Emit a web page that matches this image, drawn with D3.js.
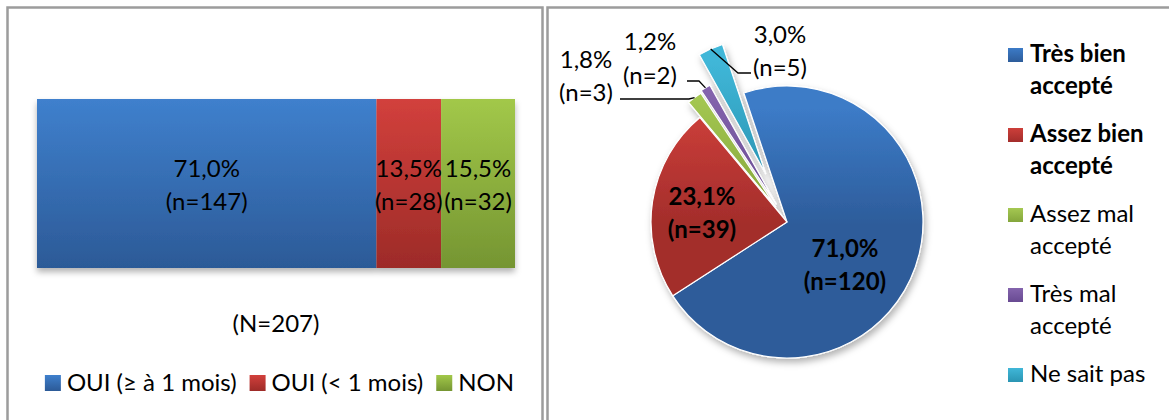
<!DOCTYPE html>
<html><head><meta charset="utf-8">
<script src="https://cdn.jsdelivr.net/npm/d3@7"></script>
<style>html,body{margin:0;padding:0;background:#fff;} svg{display:block}</style>
</head><body>
<script>
// ---------- data ----------
const barCategories = ["OUI (≥ à 1 mois)", "OUI (< 1 mois)", "NON"];
const barCounts = [147, 28, 32];
const barTotalLabel = "(N=207)";
const pieCategories = ["Très bien accepté", "Assez bien accepté", "Assez mal accepté", "Très mal accepté", "Ne sait pas"];
const pieCounts = [120, 39, 3, 2, 5];

// ---------- styles ----------
const FONT = "Lato, 'Open Sans', sans-serif";
const FS = 24;
const barColors = [["#3f80cd", "#2c5a97"], ["#d2403c", "#9d2b28"], ["#a2c849", "#759532"]];
const pieColors = [["#3c7bc7", "#2d5c9a"], ["#cd3f3a", "#a32d2b"], ["#a5c852", "#84a63b"], ["#8464ad", "#684a92"], ["#40b7d8", "#2a95b3"]];
const pieBold = [true, true, false, false, false];
const pieExplode = [0, 0, 19, 21, 53];

const W = 1169, H = 420;
const fmtPct = v => (v * 100).toFixed(1).replace(".", ",") + "%";

const svg = d3.select("body").append("svg").attr("width", W).attr("height", H)
  .style("font-family", FONT);
svg.append("rect").attr("width", W).attr("height", H).attr("fill", "#fff");
const defs = svg.append("defs");

// shadow filters
const f1 = defs.append("filter").attr("id", "barShadow").attr("x", "-5%").attr("y", "-10%").attr("width", "110%").attr("height", "130%");
f1.append("feDropShadow").attr("dx", 0).attr("dy", 4).attr("stdDeviation", 3).attr("flood-color", "#000").attr("flood-opacity", 0.3);
const f2 = defs.append("filter").attr("id", "pieShadow").attr("x", "-20%").attr("y", "-20%").attr("width", "140%").attr("height", "140%");
f2.append("feDropShadow").attr("dx", 2).attr("dy", 4).attr("stdDeviation", 3.5).attr("flood-color", "#000").attr("flood-opacity", 0.3);

// panel borders
svg.append("rect").attr("x", 7.5).attr("y", 7.5).attr("width", 535).attr("height", 440)
  .attr("fill", "none").attr("stroke", "#9c9c9c").attr("stroke-width", 2.5);
svg.append("rect").attr("x", 547.5).attr("y", 7.5).attr("width", 640).attr("height", 440)
  .attr("fill", "none").attr("stroke", "#9c9c9c").attr("stroke-width", 2.5);

// ---------- left: stacked 100% bar ----------
const total = d3.sum(barCounts);
const x = d3.scaleLinear().domain([0, total]).range([37, 515]);
const y = d3.scaleBand().domain(["all"]).range([99, 268]).padding(0);
let acc = 0;
const segs = barCounts.map((v, i) => { const s = {i, v, x0: acc, x1: acc + v}; acc += v; return s; });

segs.forEach(s => {
  const g = defs.append("linearGradient").attr("id", "bg" + s.i).attr("x1", 0).attr("y1", 0).attr("x2", 0).attr("y2", 1);
  g.append("stop").attr("offset", 0).attr("stop-color", barColors[s.i][0]);
  g.append("stop").attr("offset", 1).attr("stop-color", barColors[s.i][1]);
});
const barG = svg.append("g").attr("filter", "url(#barShadow)");
barG.selectAll("rect").data(segs).join("rect")
  .attr("x", d => x(d.x0)).attr("width", d => x(d.x1) - x(d.x0))
  .attr("y", y("all")).attr("height", y.bandwidth())
  .attr("fill", d => `url(#bg${d.i})`);
const barLbl = svg.append("g").attr("font-size", FS).attr("text-anchor", "middle").attr("fill", "#000");
segs.forEach(s => {
  const cx = (x(s.x0) + x(s.x1)) / 2;
  barLbl.append("text").attr("x", cx).attr("y", 177).text(fmtPct(s.v / total));
  barLbl.append("text").attr("x", cx).attr("y", 210).text(`(n=${s.v})`);
});
svg.append("text").attr("x", 276).attr("y", 332).attr("text-anchor", "middle")
  .attr("font-size", FS).text(barTotalLabel);

// left legend
const lg = svg.append("g").attr("font-size", FS);
let lx = 0;
const items = [];
barCategories.forEach((c, i) => {
  const it = lg.append("g");
  it.append("rect").attr("x", 0).attr("y", 375).attr("width", 16).attr("height", 16).attr("fill", `url(#lg${i})`);
  const gg = defs.append("linearGradient").attr("id", "lg" + i).attr("x1", 0).attr("y1", 0).attr("x2", 0).attr("y2", 1);
  gg.append("stop").attr("offset", 0).attr("stop-color", barColors[i][0]);
  gg.append("stop").attr("offset", 1).attr("stop-color", barColors[i][1]);
  const t = it.append("text").attr("x", 22).attr("y", 391).text(c);
  const w = 22 + t.node().getComputedTextLength();
  items.push({it, w});
});
const gap = 13;
const totW = d3.sum(items, d => d.w) + gap * (items.length - 1);
lx = 279.5 - totW / 2;
items.forEach(d => { d.it.attr("transform", `translate(${lx},0)`); lx += d.w + gap; });

// ---------- right: pie ----------
const cx = 787, cy = 222, R = 136;
const start = -18.5 * Math.PI / 180;
const pie = d3.pie().sort(null).value(d => d).startAngle(start).endAngle(start + 2 * Math.PI);
const arcs = pie(pieCounts);
const arc = d3.arc().innerRadius(0).outerRadius(R);
const pieTotal = d3.sum(pieCounts);

pieColors.forEach((c, i) => {
  const g = defs.append("linearGradient").attr("id", "pg" + i).attr("gradientUnits", "userSpaceOnUse")
    .attr("x1", 0).attr("y1", -R - 60).attr("x2", 0).attr("y2", R);
  g.append("stop").attr("offset", 0).attr("stop-color", c[0]);
  g.append("stop").attr("offset", 0.25).attr("stop-color", c[0]);
  g.append("stop").attr("offset", 0.6).attr("stop-color", c[1]);
  g.append("stop").attr("offset", 1).attr("stop-color", c[1]);
});

const pieG = svg.append("g").attr("transform", `translate(${cx},${cy})`).attr("filter", "url(#pieShadow)");
pieG.selectAll("path").data(arcs).join("path")
  .attr("d", arc)
  .attr("transform", (d, i) => {
    const m = (d.startAngle + d.endAngle) / 2, e = pieExplode[i];
    return `translate(${Math.sin(m) * e},${-Math.cos(m) * e})`;
  })
  .attr("fill", (d, i) => `url(#pg${i})`)
  .attr("stroke", "#fff").attr("stroke-width", 1.2).attr("stroke-linejoin", "round");

// inner labels (bold)
const inner = [
  {i: 0, dx: 58, b1: 35, b2: 68},
  {i: 1, dx: -85, b1: -17, b2: 16}
];
const il = svg.append("g").attr("font-size", FS).attr("font-weight", "bold").attr("text-anchor", "middle");
inner.forEach(o => {
  const v = pieCounts[o.i];
  il.append("text").attr("x", cx + o.dx).attr("y", cy + o.b1).text(fmtPct(v / pieTotal));
  il.append("text").attr("x", cx + o.dx).attr("y", cy + o.b2).text(`(n=${v})`);
});

// outer labels with leader lines (positions relative to pie centre)
const outer = [
  {i: 2, elbow: [-98, -123], end: [-167, -123], lx: -201, b1: -154, b2: -121},
  {i: 3, elbow: [-88, -141], end: [-100, -141], lx: -137, b1: -172, b2: -138},
  {i: 4, elbow: [-49, -149], end: [-36, -149], lx: -7, b1: -179, b2: -146}
];
const ol = svg.append("g").attr("font-size", FS).attr("text-anchor", "middle");
outer.forEach(o => {
  const d = arcs[o.i];
  const m = (d.startAngle + d.endAngle) / 2, r = R + pieExplode[o.i];
  const ax = cx + Math.sin(m) * r, ay = cy - Math.cos(m) * r;
  svg.append("polyline")
    .attr("points", [[ax, ay], [cx + o.elbow[0], cy + o.elbow[1]], [cx + o.end[0], cy + o.end[1]]].map(p => p.join(",")).join(" "))
    .attr("fill", "none").attr("stroke", "#000").attr("stroke-width", 1.3);
  const v = pieCounts[o.i];
  ol.append("text").attr("x", cx + o.lx).attr("y", cy + o.b1).text(fmtPct(v / pieTotal));
  ol.append("text").attr("x", cx + o.lx).attr("y", cy + o.b2).text(`(n=${v})`);
});

// right legend
const rl = svg.append("g").attr("font-size", FS);
pieCategories.forEach((c, i) => {
  const base = 62 + i * 80;
  const gg = defs.append("linearGradient").attr("id", "rg" + i).attr("x1", 0).attr("y1", 0).attr("x2", 0).attr("y2", 1);
  gg.append("stop").attr("offset", 0).attr("stop-color", pieColors[i][0]);
  gg.append("stop").attr("offset", 1).attr("stop-color", pieColors[i][1]);
  rl.append("rect").attr("x", 1008).attr("y", base - 14).attr("width", 15).attr("height", 14).attr("fill", `url(#rg${i})`);
  const t = rl.append("text").attr("x", 1030).attr("y", base).attr("font-weight", pieBold[i] ? "bold" : "normal");
  const words = c.split(" ");
  let lines = [], cur = [];
  words.forEach(w => {
    const trial = cur.concat(w).join(" ");
    t.text(trial);
    if (cur.length && t.node().getComputedTextLength() > 134) { lines.push(cur.join(" ")); cur = [w]; }
    else cur.push(w);
  });
  lines.push(cur.join(" "));
  t.text(null);
  lines.forEach((ln, k) => t.append("tspan").attr("x", 1030).attr("y", base + k * 32).text(ln));
});
</script>
</body></html>
